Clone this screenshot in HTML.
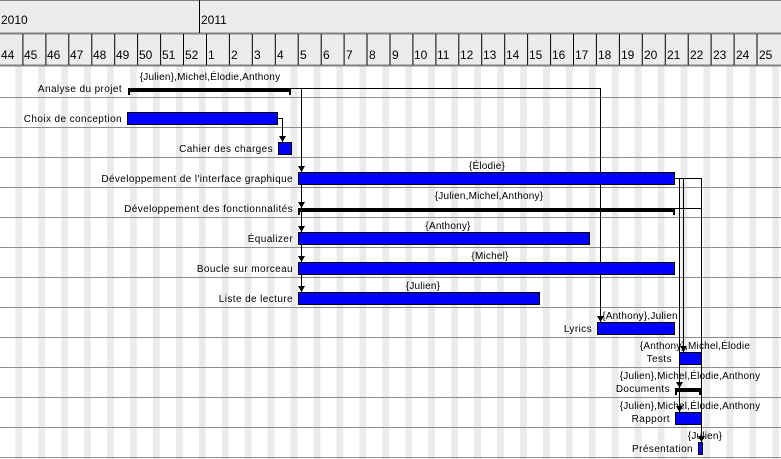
<!DOCTYPE html>
<html><head><meta charset="utf-8"><style>
html,body{margin:0;padding:0;background:#fff;}
svg{display:block;font-family:"Liberation Sans",sans-serif;}
.t{font-size:10px;fill:#000;text-anchor:end;letter-spacing:0.4px;}
.r{font-size:10px;fill:#000;text-anchor:middle;letter-spacing:0.2px;}
.h{font-size:12px;fill:#000;}
</style></head><body>
<svg width="781" height="459" viewBox="0 0 781 459" xmlns="http://www.w3.org/2000/svg">
<defs>
<pattern id="st" x="0" y="0" width="22.94" height="10" patternUnits="userSpaceOnUse">
<rect x="15.3" y="0" width="6.8" height="10" fill="#ebebeb"/>
</pattern>
<marker id="ar" markerWidth="7" markerHeight="7" refX="6" refY="3.5" orient="auto" markerUnits="userSpaceOnUse">
<path d="M0,0 L6,3.5 L0,7 z" fill="#000"/>
</marker>
</defs>
<rect x="0" y="66" width="781" height="393" fill="url(#st)"/>
<rect x="0" y="0" width="781" height="66" fill="#ececec"/>
<line x1="0" y1="0.5" x2="781" y2="0.5" stroke="#808080"/>
<line x1="0" y1="33.5" x2="781" y2="33.5" stroke="#808080" stroke-width="2"/>
<line x1="0" y1="65.5" x2="781" y2="65.5" stroke="#808080" stroke-width="2"/>
<line x1="199.5" y1="0" x2="199.5" y2="33" stroke="#000"/>
<text class="h" x="1" y="24">2010</text>
<text class="h" x="201" y="24">2011</text>
<g stroke="#000">
<line x1="22.9" y1="34" x2="22.9" y2="65"/><line x1="45.9" y1="34" x2="45.9" y2="65"/><line x1="68.8" y1="34" x2="68.8" y2="65"/><line x1="91.8" y1="34" x2="91.8" y2="65"/><line x1="114.7" y1="34" x2="114.7" y2="65"/><line x1="137.6" y1="34" x2="137.6" y2="65"/><line x1="160.6" y1="34" x2="160.6" y2="65"/><line x1="183.5" y1="34" x2="183.5" y2="65"/><line x1="206.5" y1="34" x2="206.5" y2="65"/><line x1="229.4" y1="34" x2="229.4" y2="65"/><line x1="252.3" y1="34" x2="252.3" y2="65"/><line x1="275.3" y1="34" x2="275.3" y2="65"/><line x1="298.2" y1="34" x2="298.2" y2="65"/><line x1="321.2" y1="34" x2="321.2" y2="65"/><line x1="344.1" y1="34" x2="344.1" y2="65"/><line x1="367" y1="34" x2="367" y2="65"/><line x1="390" y1="34" x2="390" y2="65"/><line x1="412.9" y1="34" x2="412.9" y2="65"/><line x1="435.9" y1="34" x2="435.9" y2="65"/><line x1="458.8" y1="34" x2="458.8" y2="65"/><line x1="481.7" y1="34" x2="481.7" y2="65"/><line x1="504.7" y1="34" x2="504.7" y2="65"/><line x1="527.6" y1="34" x2="527.6" y2="65"/><line x1="550.6" y1="34" x2="550.6" y2="65"/><line x1="573.5" y1="34" x2="573.5" y2="65"/><line x1="596.4" y1="34" x2="596.4" y2="65"/><line x1="619.4" y1="34" x2="619.4" y2="65"/><line x1="642.3" y1="34" x2="642.3" y2="65"/><line x1="665.3" y1="34" x2="665.3" y2="65"/><line x1="688.2" y1="34" x2="688.2" y2="65"/><line x1="711.1" y1="34" x2="711.1" y2="65"/><line x1="734.1" y1="34" x2="734.1" y2="65"/><line x1="757" y1="34" x2="757" y2="65"/>
</g>
<g class="h">
<text x="1" y="59">44</text><text x="24" y="59">45</text><text x="47" y="59">46</text><text x="70" y="59">47</text><text x="93" y="59">48</text><text x="116" y="59">49</text><text x="139" y="59">50</text><text x="162" y="59">51</text><text x="185" y="59">52</text><text x="208" y="59">1</text><text x="231" y="59">2</text><text x="254" y="59">3</text><text x="277" y="59">4</text><text x="300" y="59">5</text><text x="323" y="59">6</text><text x="346" y="59">7</text><text x="369" y="59">8</text><text x="392" y="59">9</text><text x="414" y="59">10</text><text x="437" y="59">11</text><text x="460" y="59">12</text><text x="483" y="59">13</text><text x="506" y="59">14</text><text x="529" y="59">15</text><text x="552" y="59">16</text><text x="575" y="59">17</text><text x="598" y="59">18</text><text x="621" y="59">19</text><text x="644" y="59">20</text><text x="667" y="59">21</text><text x="690" y="59">22</text><text x="713" y="59">23</text><text x="736" y="59">24</text><text x="759" y="59">25</text>
</g>
<g stroke="#8c8c8c">
<line x1="0" y1="97.5" x2="781" y2="97.5"/><line x1="0" y1="127.5" x2="781" y2="127.5"/><line x1="0" y1="157.5" x2="781" y2="157.5"/><line x1="0" y1="187.5" x2="781" y2="187.5"/><line x1="0" y1="217.5" x2="781" y2="217.5"/><line x1="0" y1="247.5" x2="781" y2="247.5"/><line x1="0" y1="277.5" x2="781" y2="277.5"/><line x1="0" y1="307.5" x2="781" y2="307.5"/><line x1="0" y1="337.5" x2="781" y2="337.5"/><line x1="0" y1="367.5" x2="781" y2="367.5"/><line x1="0" y1="397.5" x2="781" y2="397.5"/><line x1="0" y1="427.5" x2="781" y2="427.5"/><line x1="0" y1="457.5" x2="781" y2="457.5"/>
</g>
<g stroke="#000" fill="none">
<polyline points="291,88.5 600.5,88.5 600.5,322" marker-end="url(#ar)"/>
<polyline points="301.5,88.5 301.5,292" marker-end="url(#ar)"/>
<line x1="301.5" y1="100" x2="301.5" y2="172" marker-end="url(#ar)"/>
<line x1="301.5" y1="190" x2="301.5" y2="208" marker-end="url(#ar)"/>
<line x1="301.5" y1="215" x2="301.5" y2="232" marker-end="url(#ar)"/>
<line x1="301.5" y1="245" x2="301.5" y2="262" marker-end="url(#ar)"/>
<polyline points="278,118.5 282.5,118.5 282.5,142" marker-end="url(#ar)"/>
<polyline points="675,178.5 701.5,178.5 701.5,442" marker-end="url(#ar)"/>
<polyline points="675,178.5 683.5,178.5 683.5,352" marker-end="url(#ar)"/>
<polyline points="675,178.5 679.5,178.5 679.5,412" marker-end="url(#ar)"/>
<line x1="679.5" y1="200" x2="679.5" y2="388" marker-end="url(#ar)"/>
<line x1="675" y1="208.5" x2="702" y2="208.5"/>
</g>
<g fill="#0000ff" stroke="#000">
<rect x="127.5" y="112.5" width="150" height="12"/>
<rect x="278.5" y="142.5" width="13" height="12"/>
<rect x="298.5" y="172.5" width="376" height="12"/>
<rect x="298.5" y="232.5" width="291" height="12"/>
<rect x="298.5" y="262.5" width="376" height="12"/>
<rect x="298.5" y="292.5" width="241" height="12"/>
<rect x="597.5" y="322.5" width="77" height="12"/>
<rect x="679.5" y="352.5" width="22" height="12"/>
<rect x="675.5" y="412.5" width="26" height="12"/>
<rect x="698.5" y="442.5" width="4" height="12"/>
</g>
<g fill="#000">
<rect x="128" y="88" width="163" height="4"/><rect x="128" y="88" width="2" height="7"/><rect x="289" y="88" width="2" height="7"/>
<rect x="298" y="208" width="377" height="4"/><rect x="298" y="208" width="2" height="7"/><rect x="673" y="208" width="2" height="7"/>
<rect x="675" y="388" width="26" height="4"/><rect x="675" y="388" width="2" height="7"/><rect x="699" y="388" width="2" height="7"/>
</g>
<g class="t">
<text x="122" y="92">Analyse du projet</text>
<text x="122" y="122">Choix de conception</text>
<text x="273" y="152">Cahier des charges</text>
<text x="293" y="182">Développement de l'interface graphique</text>
<text x="293" y="212">Développement des fonctionnalités</text>
<text x="293" y="242">Équalizer</text>
<text x="293" y="272">Boucle sur morceau</text>
<text x="293" y="302">Liste de lecture</text>
<text x="592" y="332">Lyrics</text>
<text x="672" y="362">Tests</text>
<text x="670" y="392">Documents</text>
<text x="670" y="422">Rapport</text>
<text x="693" y="452">Présentation</text>
</g>
<g class="r">
<text x="210" y="80">{Julien},Michel,Élodie,Anthony</text>
<text x="487" y="169">{Élodie}</text>
<text x="489" y="199">{Julien,Michel,Anthony}</text>
<text x="448" y="229">{Anthony}</text>
<text x="490" y="259">{Michel}</text>
<text x="423" y="289">{Julien}</text>
<text x="640" y="319">{Anthony},Julien</text>
<text x="695" y="349">{Anthony},Michel,Élodie</text>
<text x="690" y="379">{Julien},Michel,Élodie,Anthony</text>
<text x="690" y="409">{Julien},Michel,Élodie,Anthony</text>
<text x="705" y="439">{Julien}</text>
</g>
</svg>
</body></html>
